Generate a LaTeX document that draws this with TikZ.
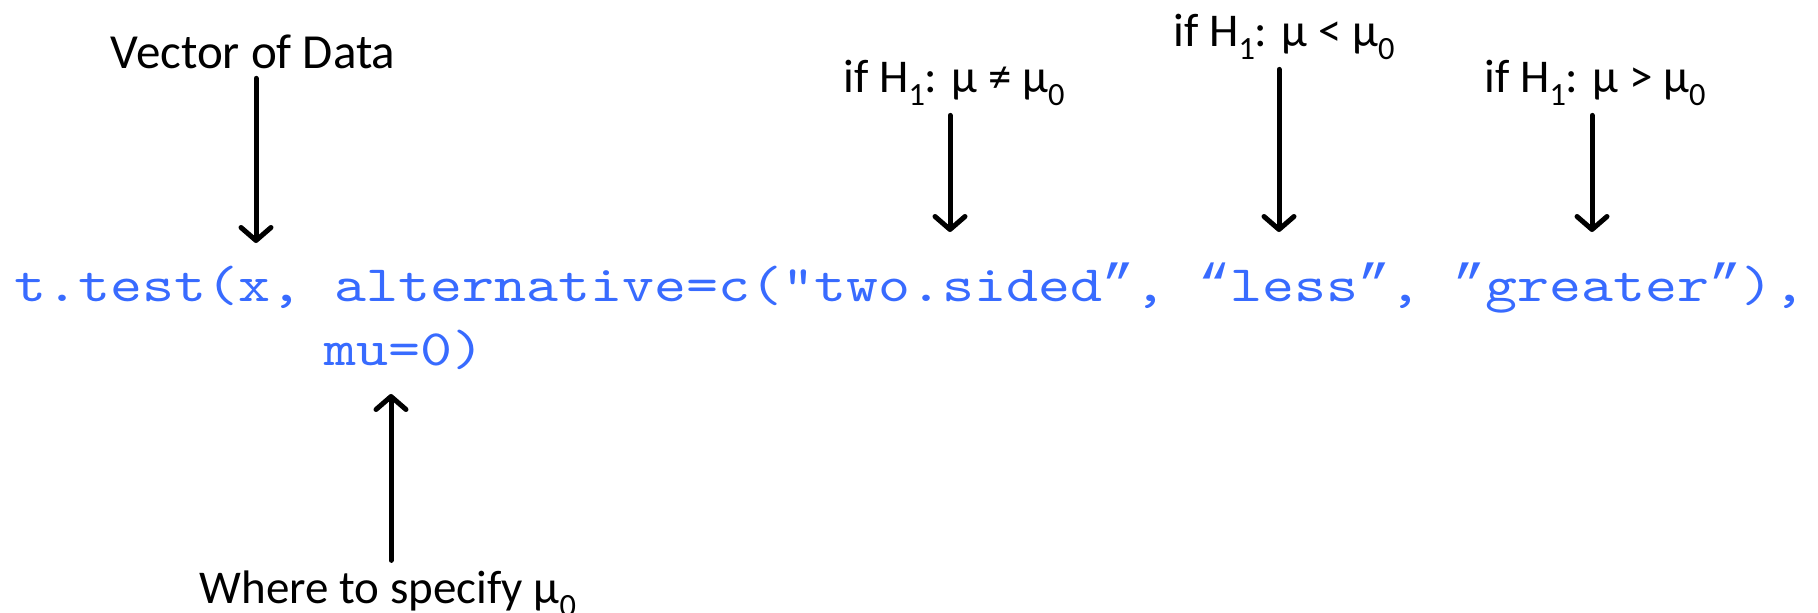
\documentclass[tikz,border=0pt]{standalone}
\usepackage{fontspec}
\setmainfont{Carlito}
\newfontfamily\codefont{lmmono10-regular.otf}[Ligatures=TeXOff,FakeStretch=1.195]
\newfontfamily\quotefont{Liberation Mono}[Ligatures=TeXOff]
\usetikzlibrary{arrows.meta}
\definecolor{codeblue}{RGB}{56,107,255}
\newcommand\lsub[1]{\raisebox{-0.28em}{\scalebox{0.69}{#1}}}
\newcommand\cq[1]{{\quotefont\fontsize{53.3}{60}\selectfont #1}}
\begin{document}
\begin{tikzpicture}[x=1pt,y=-1pt,
  lbl/.style={anchor=base, inner sep=0pt, outer xsep=0pt, outer ysep=10pt, text=black},
  hyp/.style={lbl, font=\fontsize{47}{53}\selectfont},
  codeline/.style={anchor=base west, inner sep=0pt, text=codeblue,
    font=\codefont\fontsize{51}{60}\selectfont},
  arr/.style={draw=black, line width=5pt, line cap=round,
    -{Straight Barb[length=13pt,width=30pt,line width=5pt,round]}}]
\useasboundingbox (0,0) rectangle (1818,613);

% code
\node[codeline] (code1) at (14,301) {t.test(x, alternative=c("two.sided\cq{”}, \cq{“}less\cq{”}, \cq{”}greater\cq{”}),};
\node[codeline] (code2) at (324,365) {mu=0)};

% labels
\node[lbl, font=\fontsize{49}{55}\selectfont] (vec) at (253,68) {Vector of Data};
\node[hyp] (two) at (954,92) {if H\lsub{1}: μ ≠ μ\lsub{0}};
\node[hyp] (less) at (1284,46) {if H\lsub{1}: μ < μ\lsub{0}};
\node[hyp] (great) at (1595,92) {if H\lsub{1}: μ > μ\lsub{0}};
\node[lbl, font=\fontsize{47}{53}\selectfont] (where) at (388,603) {Where to specify μ\lsub{0}};

% arrow ends
\coordinate (t1) at (256,243);
\coordinate (t2) at (950,232);
\coordinate (t3) at (1279,232);
\coordinate (t4) at (1592,232);
\coordinate (t5) at (391,394);

\draw[arr] (vec.south -| t1) -- (t1);
\draw[arr] (two.south -| t2) -- (t2);
\draw[arr] (less.south -| t3) -- (t3);
\draw[arr] (great.south -| t4) -- (t4);
\draw[arr] (where.north -| t5) -- (t5);
\end{tikzpicture}
\end{document}
